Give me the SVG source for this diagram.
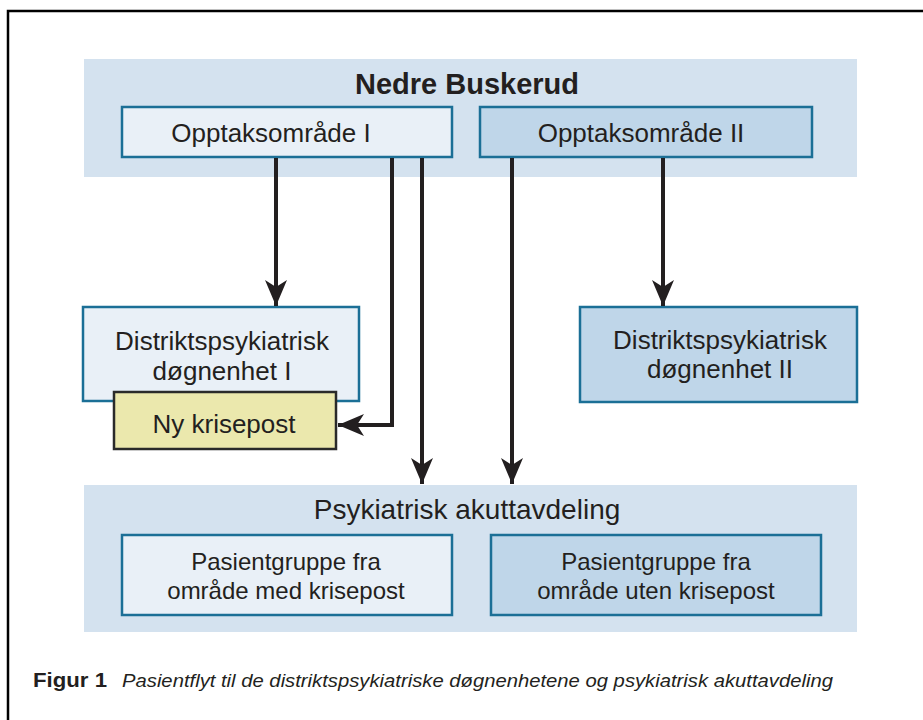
<svg xmlns="http://www.w3.org/2000/svg" width="923" height="720" viewBox="0 0 923 720">
<defs>
<style>
.band{fill:#d4e2ef;stroke:none}
.lt{fill:#e9f0f7;stroke:#1b6f96;stroke-width:2.5}
.md{fill:#bfd6e9;stroke:#1b6f96;stroke-width:2.5}
.ny{fill:#ebe8ad;stroke:#2a2a2a;stroke-width:2.5}
text{font-family:"Liberation Sans",Arial,sans-serif;fill:#231f20;text-anchor:middle}
.t26{font-size:26px}
.t24{font-size:24px}
.t28{font-size:28px}
.tb{font-size:29px;font-weight:bold}
.cap{font-size:18px;text-anchor:start}
.con{fill:none;stroke:#231f20;stroke-width:4}
</style>
<marker id="ah" markerUnits="userSpaceOnUse" markerWidth="30" markerHeight="30" refX="26" refY="12" orient="auto" viewBox="0 0 30 24">
<path d="M26,12 L0,1 L7,12 L0,23 Z" fill="#231f20"/>
</marker>
</defs>
<rect x="0" y="0" width="923" height="720" fill="#ffffff"/>
<path d="M8,720 V11 H923" fill="none" stroke="#000" stroke-width="2.5"/>
<g id="nedre-buskerud">
<rect class="band" x="84" y="59" width="773" height="118"/>
<text class="tb" x="467" y="94">Nedre Buskerud</text>
</g>
<g id="opptak1">
<rect class="lt" x="122" y="107" width="330" height="50"/>
<text class="t26" x="271" y="142">Opptaksområde I</text>
</g>
<g id="opptak2">
<rect class="md" x="480" y="107" width="332" height="50"/>
<text class="t26" x="641" y="142">Opptaksområde II</text>
</g>
<g id="dps1">
<rect class="lt" x="83" y="307" width="276" height="94"/>
<text class="t26" x="222" y="350">Distriktspsykiatrisk</text>
<text class="t26" x="222" y="380">døgnenhet I</text>
</g>
<g id="krisepost">
<rect class="ny" x="114" y="392" width="222" height="57"/>
<text class="t26" x="224" y="433">Ny krisepost</text>
</g>
<g id="dps2">
<rect class="md" x="580" y="307" width="277" height="95"/>
<text class="t26" x="720" y="349">Distriktspsykiatrisk</text>
<text class="t26" x="720" y="378">døgnenhet II</text>
</g>
<g id="akutt">
<rect class="band" x="84" y="485" width="773" height="147"/>
<text class="t28" x="467" y="519">Psykiatrisk akuttavdeling</text>
</g>
<g id="gruppe-med">
<rect class="lt" x="122" y="535" width="330" height="80"/>
<text class="t24" x="286" y="570">Pasientgruppe fra</text>
<text class="t24" x="286" y="599">område med krisepost</text>
</g>
<g id="gruppe-uten">
<rect class="md" x="491" y="535" width="330" height="80"/>
<text class="t24" x="656" y="570">Pasientgruppe fra</text>
<text class="t24" x="656" y="599">område uten krisepost</text>
</g>
<g id="connectors">
<path class="con" d="M276,158 V306" marker-end="url(#ah)"/>
<path class="con" d="M392,158 V425 H338" marker-end="url(#ah)"/>
<path class="con" d="M422,158 V484" marker-end="url(#ah)"/>
<path class="con" d="M512,158 V484" marker-end="url(#ah)"/>
<path class="con" d="M663,158 V306" marker-end="url(#ah)"/>
</g>
<g id="caption">
<text class="cap" x="33" y="687" style="font-weight:bold;font-size:21px" textLength="74" lengthAdjust="spacingAndGlyphs">Figur 1</text>
<text class="cap" x="122" y="687" style="font-style:italic;font-size:19px" textLength="711" lengthAdjust="spacingAndGlyphs">Pasientflyt til de distriktspsykiatriske døgnenhetene og psykiatrisk akuttavdeling</text>
</g>
</svg>
